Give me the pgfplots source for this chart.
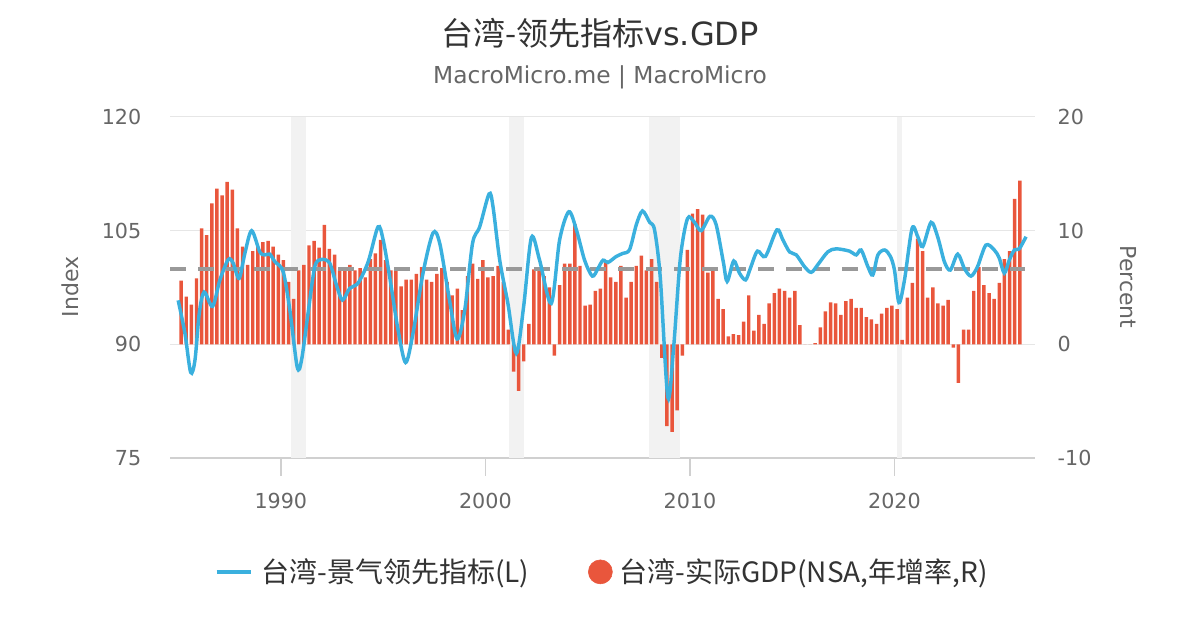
\documentclass[border=0pt]{standalone}
\usepackage{pgfplots}
\pgfplotsset{compat=1.18}
\usepackage{fontspec}
\setmainfont{DejaVu Sans}
\newfontfamily\cjk{Noto Sans CJK SC}
\definecolor{lineblue}{HTML}{3AB0DE}
\definecolor{barred}{HTML}{E9563C}
\definecolor{gridc}{HTML}{E6E6E6}
\definecolor{axisc}{HTML}{D0D0D0}
\definecolor{bandc}{HTML}{F2F2F2}
\definecolor{txt}{HTML}{666666}
\definecolor{ttl}{HTML}{333333}
\definecolor{dashc}{HTML}{999999}

\begin{document}
\begin{tikzpicture}[x=1pt,y=1pt]
\useasboundingbox (0,0) rectangle (900,472.5);
\pgfplotsset{
  base/.style={scale only axis, width=648.75pt, height=255.75pt,
    at={(127.5pt,129pt)}, anchor=south west,
    xmin=1984.58, xmax=2026.87,
    ticklabel style={font=\fontsize{15.5}{18}\selectfont, text=txt}}
}
% ---------- right axis: GDP growth (percent) ----------
\begin{axis}[base,
  ymin=-10, ymax=20,
  ytick={-10,0,10,20}, yticklabels={-10,0,10,20},
  axis y line*=right, axis x line*=bottom,
  xtick={1990,2000,2010,2020}, xticklabels={1990,2000,2010,2020},
  ymajorgrids, grid style={gridc, line width=0.75pt},
  x axis line style={axisc, line width=1.2pt},
  y axis line style={draw=none},
  xtick style={axisc, line width=1.2pt},
  ytick style={draw=none},
  tick align=outside, major tick length=13.5pt,
  xticklabel style={anchor=center, yshift=-19pt},
]
% recession bands
\addplot[fill=bandc, draw=none, forget plot] coordinates {(1990.49,-10)(1990.49,20)(1991.25,20)(1991.25,-10)} -- cycle;
\addplot[fill=bandc, draw=none, forget plot] coordinates {(2001.13,-10)(2001.13,20)(2001.91,20)(2001.91,-10)} -- cycle;
\addplot[fill=bandc, draw=none, forget plot] coordinates {(2007.98,-10)(2007.98,20)(2009.53,20)(2009.53,-10)} -- cycle;
\addplot[fill=bandc, draw=none, forget plot] coordinates {(2020.12,-10)(2020.12,20)(2020.38,20)(2020.38,-10)} -- cycle;
% GDP bars
\addplot[ybar, bar width=2.6pt, fill=barred, draw=none, forget plot] coordinates {
(1985.125,5.6)(1985.375,4.2)(1985.625,3.5)(1985.875,5.8)
(1986.125,10.2)(1986.375,9.6)(1986.625,12.4)(1986.875,13.7)
(1987.125,13.1)(1987.375,14.3)(1987.625,13.6)(1987.875,10.2)
(1988.125,8.6)(1988.375,7.0)(1988.625,8.2)(1988.875,8.6)
(1989.125,9.0)(1989.375,9.1)(1989.625,8.6)(1989.875,7.9)
(1990.125,7.4)(1990.375,5.5)(1990.625,4.0)(1990.875,6.5)
(1991.125,7.0)(1991.375,8.7)(1991.625,9.1)(1991.875,8.5)
(1992.125,10.5)(1992.375,8.4)(1992.625,7.9)(1992.875,6.5)
(1993.125,6.8)(1993.375,7.0)(1993.625,6.5)(1993.875,6.7)
(1994.125,5.9)(1994.375,7.5)(1994.625,8.0)(1994.875,9.2)
(1995.125,7.4)(1995.375,6.5)(1995.625,6.5)(1995.875,5.1)
(1996.125,5.7)(1996.375,5.7)(1996.625,6.2)(1996.875,6.8)
(1997.125,5.7)(1997.375,5.5)(1997.625,6.2)(1997.875,6.7)
(1998.125,5.5)(1998.375,4.3)(1998.625,4.9)(1998.875,3.0)
(1999.125,6.0)(1999.375,7.1)(1999.625,5.75)(1999.875,7.4)
(2000.125,5.9)(2000.375,6.0)(2000.625,6.9)(2000.875,5.5)
(2001.125,1.3)(2001.375,-2.4)(2001.625,-4.1)(2001.875,-1.5)
(2002.125,1.8)(2002.375,6.6)(2002.625,6.8)(2002.875,6.0)
(2003.125,5.0)(2003.375,-1.0)(2003.625,5.2)(2003.875,7.1)
(2004.125,7.1)(2004.375,10.6)(2004.625,6.9)(2004.875,3.4)
(2005.125,3.5)(2005.375,4.7)(2005.625,4.9)(2005.875,7.4)
(2006.125,5.9)(2006.375,5.5)(2006.625,6.9)(2006.875,4.1)
(2007.125,5.5)(2007.375,6.9)(2007.625,7.8)(2007.875,6.5)
(2008.125,7.5)(2008.375,5.5)(2008.625,-1.2)(2008.875,-7.2)
(2009.125,-7.7)(2009.375,-5.8)(2009.625,-1.0)(2009.875,8.3)
(2010.125,11.5)(2010.375,11.9)(2010.625,11.4)(2010.875,6.3)
(2011.125,6.5)(2011.375,4.0)(2011.625,3.1)(2011.875,0.7)
(2012.125,0.9)(2012.375,0.8)(2012.625,2.0)(2012.875,4.3)
(2013.125,1.2)(2013.375,2.6)(2013.625,1.8)(2013.875,3.6)
(2014.125,4.5)(2014.375,4.9)(2014.625,4.7)(2014.875,4.1)
(2015.125,4.7)(2015.375,1.7)(2015.625,0)(2015.875,0)
(2016.125,0.1)(2016.375,1.5)(2016.625,2.9)(2016.875,3.7)
(2017.125,3.6)(2017.375,2.6)(2017.625,3.8)(2017.875,4.0)
(2018.125,3.2)(2018.375,3.2)(2018.625,2.4)(2018.875,2.2)
(2019.125,1.8)(2019.375,2.7)(2019.625,3.2)(2019.875,3.4)
(2020.125,3.1)(2020.375,0.4)(2020.625,4.1)(2020.875,5.4)
(2021.125,9.3)(2021.375,8.2)(2021.625,4.1)(2021.875,5.0)
(2022.125,3.6)(2022.375,3.4)(2022.625,3.9)(2022.875,-0.3)
(2023.125,-3.4)(2023.375,1.3)(2023.625,1.3)(2023.875,4.7)
(2024.125,6.8)(2024.375,5.2)(2024.625,4.5)(2024.875,4.0)
(2025.125,5.4)(2025.375,7.5)(2025.625,8.2)(2025.875,12.8)
(2026.125,14.4)
};
\end{axis}
% ---------- left axis: leading index ----------
\begin{axis}[base,
  ymin=75, ymax=120,
  ytick={75,90,105,120}, yticklabels={75,90,105,120},
  axis y line*=left, axis x line=none,
  y axis line style={draw=none}, ytick style={draw=none},
  yticklabel style={xshift=-18pt},
  legend style={at={(0.5,-0.334)}, anchor=center, draw=none, fill=none,
    legend columns=2, font=\cjk\fontsize{21}{25}\selectfont, text=ttl,
    /tikz/every even column/.append style={column sep=42pt}},
  legend cell align=left,
]
\addplot[dashc, line width=3pt, dash pattern=on 12pt off 9pt, forget plot] coordinates {(1984.58,100)(2026.4,100)};
\addplot[lineblue, line width=2.6pt, smooth, tension=0.5,
  legend image code/.code={\draw[lineblue, line width=2.6pt] (0pt,0pt) -- (26pt,0pt); \path (30.5pt,0pt);}] coordinates {
(1984.98,95.8)(1985.31,91.45)(1985.59,86.3)(1985.8,87.9)(1986.01,94.1)(1986.25,96.9)
(1986.66,95.0)(1987.02,98.5)(1987.43,101.2)(1987.67,100.7)(1987.96,98.7)(1988.24,102.0)
(1988.57,105.0)(1988.97,102.2)(1989.22,101.8)(1989.46,101.9)(1989.71,100.9)(1990.11,99.6)
(1990.44,94.5)(1990.8,87.0)(1991.01,87.9)(1991.33,94.1)(1991.66,100.25)(1991.99,101.2)
(1992.39,100.7)(1992.72,97.8)(1993.01,95.85)(1993.37,97.4)(1993.78,98.1)(1994.27,100.9)
(1994.75,105.5)(1995.0,103.8)(1995.32,98.9)(1995.73,91.9)(1996.1,87.6)(1996.46,91.45)
(1996.95,99.4)(1997.44,104.7)(1997.77,103.3)(1998.26,95.6)(1998.62,90.7)(1998.99,94.5)
(1999.37,103.3)(1999.72,105.5)(2000.18,109.85)(2000.37,108.2)(2000.7,101.1)(2001.1,95.4)
(2001.51,88.8)(2001.87,95.0)(2002.25,104.1)(2002.65,101.1)(2003.22,95.4)(2003.63,103.8)
(2004.08,107.5)(2004.45,105.1)(2004.85,101.1)(2005.23,99.0)(2005.5,100.0)(2005.75,101.1)
(2005.99,100.8)(2006.4,101.6)(2006.72,102.0)(2007.05,102.5)(2007.38,105.8)(2007.68,107.6)
(2008.03,106.1)(2008.27,105.1)(2008.55,98.8)(2008.92,83.0)(2009.2,89.5)(2009.53,101.3)
(2009.88,106.6)(2010.22,106.1)(2010.55,105.0)(2010.98,106.9)(2011.28,105.8)(2011.63,100.9)
(2011.82,98.3)(2012.14,101.0)(2012.42,99.4)(2012.72,98.5)(2012.95,100.0)(2013.3,102.3)
(2013.69,101.6)(2014.25,105.1)(2014.54,103.8)(2014.87,102.2)(2015.2,101.8)(2015.6,100.25)
(2015.93,99.5)(2016.25,100.5)(2016.74,102.2)(2017.15,102.6)(2017.8,102.3)(2018.13,101.8)
(2018.37,102.45)(2018.7,100.25)(2018.94,99.15)(2019.19,101.8)(2019.52,102.45)(2019.8,101.6)
(2020.0,99.8)(2020.22,95.5)(2020.49,98.5)(2020.86,105.3)(2021.14,104.2)(2021.38,102.9)
(2021.79,106.1)(2022.11,104.2)(2022.44,100.9)(2022.73,99.8)(2023.09,101.9)(2023.42,100.0)
(2023.74,99.0)(2024.06,100.25)(2024.47,103.1)(2024.88,102.45)(2025.12,101.4)(2025.37,99.4)
(2025.61,101.1)(2025.86,102.45)(2026.1,102.6)(2026.43,104.2)
};
\addlegendentry{台湾-景气领先指标(L)}
\addlegendimage{legend image code/.code={\fill[barred] (9pt,0pt) circle (9pt); \path (21pt,0pt);}}
\addlegendentry{台湾-实际GDP(NSA,年增率,R)}
\end{axis}
% ---------- titles and axis names ----------
\node[text=ttl, font=\fontsize{24}{28}\selectfont] at (450,447.75) {{\cjk 台湾-领先指标}vs.GDP};
\node[text=txt, font=\fontsize{17.5}{21}\selectfont] at (450,414.75) {MacroMicro.me | MacroMicro};
\node[text=txt, font=\fontsize{16.5}{20}\selectfont, rotate=90] at (52.5,257.25) {Index};
\node[text=txt, font=\fontsize{16.5}{20}\selectfont, rotate=-90] at (846,257.25) {Percent};
\end{tikzpicture}
\end{document}
